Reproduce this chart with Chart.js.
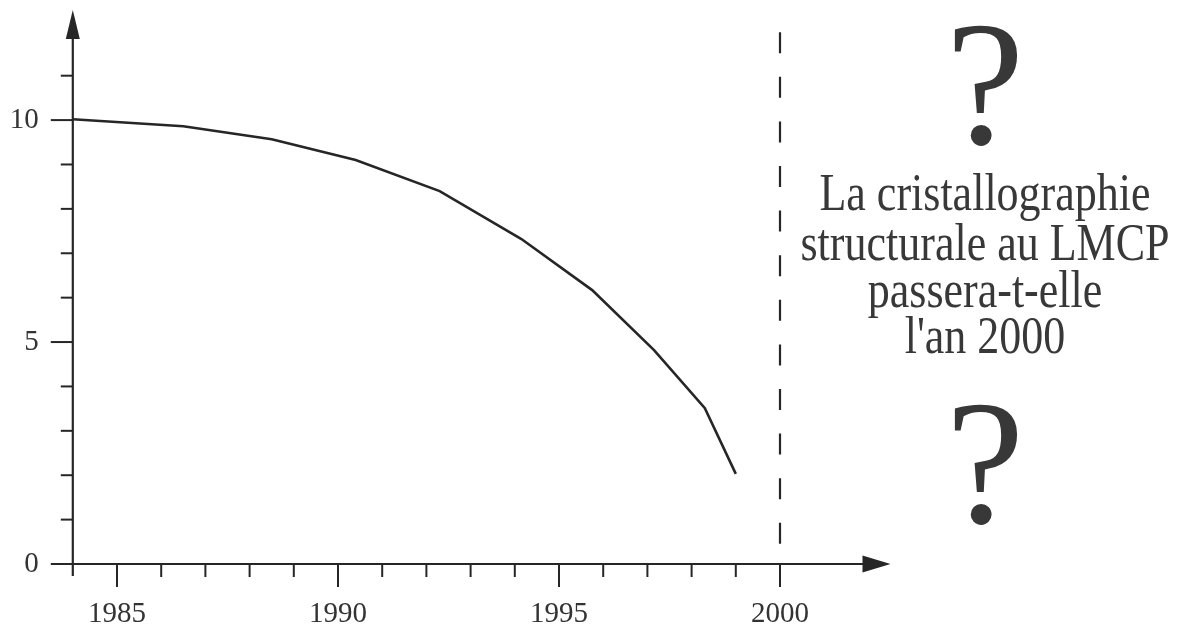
<!DOCTYPE html>
<html>
<head>
<meta charset="utf-8">
<script src="https://cdn.jsdelivr.net/npm/chart.js@4/dist/chart.umd.min.js"></script>
<style>
  html, body { margin: 0; padding: 0; background: #fff; }
  #wrap { width: 1186px; height: 627px; position: relative; }
</style>
</head>
<body>
<div id="wrap"><canvas id="c" width="1186" height="627"></canvas></div>
<script>
// ---- data ----
const years  = [1984, 1986.5, 1988.5, 1990.4, 1992.3, 1994.15, 1995.75, 1997.15, 1998.3, 1999.0];
const values = [10.02, 9.86, 9.57, 9.1, 8.4, 7.32, 6.17, 4.82, 3.51, 2.03];
const xMajorTicks = [1985, 1990, 1995, 2000];
const xMinorTicks = [1986, 1987, 1988, 1989, 1991, 1992, 1993, 1994, 1996, 1997, 1998, 1999];
const yMajorTicks = [0, 5, 10];
const yMinorTicks = [1, 2, 3, 4, 6, 7, 8, 9, 11];
const markerYear = 2000;
const questionText = ["La cristallographie", "structurale au LMCP", "passera-t-elle", "l'an 2000"];

const ink = '#262626';
const textInk = '#333333';

const decor = {
  id: 'decor',
  afterDraw(chart) {
    const ctx = chart.ctx;
    const xs = chart.scales.x, ys = chart.scales.y;
    const x0 = xs.getPixelForValue(xs.min), x1 = xs.getPixelForValue(xs.max);
    const y0 = ys.getPixelForValue(0), y1 = ys.getPixelForValue(ys.max);
    ctx.save();
    ctx.strokeStyle = ink; ctx.fillStyle = ink; ctx.lineWidth = 2.2; ctx.lineCap = 'butt';
    // x axis
    ctx.beginPath(); ctx.moveTo(x0 - 12, y0); ctx.lineTo(x1 - 26, y0); ctx.stroke();
    ctx.beginPath(); ctx.moveTo(x1, y0); ctx.lineTo(x1 - 28, y0 - 8.5); ctx.lineTo(x1 - 28, y0 + 8.5); ctx.closePath(); ctx.fill();
    // y axis
    ctx.beginPath(); ctx.moveTo(x0, y0 + 12); ctx.lineTo(x0, y1 + 26); ctx.stroke();
    ctx.beginPath(); ctx.moveTo(x0, y1); ctx.lineTo(x0 - 7, y1 + 29); ctx.lineTo(x0 + 7, y1 + 29); ctx.closePath(); ctx.fill();
    // x ticks
    ctx.lineWidth = 2;
    xMajorTicks.forEach(v => { const p = xs.getPixelForValue(v); ctx.beginPath(); ctx.moveTo(p, y0); ctx.lineTo(p, y0 + 23); ctx.stroke(); });
    xMinorTicks.forEach(v => { const p = xs.getPixelForValue(v); ctx.beginPath(); ctx.moveTo(p, y0); ctx.lineTo(p, y0 + 13); ctx.stroke(); });
    // y ticks
    yMajorTicks.forEach(v => { const p = ys.getPixelForValue(v); ctx.beginPath(); ctx.moveTo(x0, p); ctx.lineTo(x0 - 22, p); ctx.stroke(); });
    yMinorTicks.forEach(v => { const p = ys.getPixelForValue(v); ctx.beginPath(); ctx.moveTo(x0, p); ctx.lineTo(x0 - 12, p); ctx.stroke(); });
    // labels
    ctx.fillStyle = textInk;
    ctx.font = '29px "Liberation Serif", "Times New Roman", serif';
    ctx.textAlign = 'center'; ctx.textBaseline = 'middle';
    xMajorTicks.forEach(v => ctx.fillText(String(v), xs.getPixelForValue(v), y0 + 50));
    ctx.textAlign = 'right';
    yMajorTicks.forEach(v => ctx.fillText(String(v), x0 - 34, ys.getPixelForValue(v)));
    // dashed marker line
    const xm = xs.getPixelForValue(markerYear);
    ctx.strokeStyle = ink; ctx.lineWidth = 2.2; ctx.setLineDash([21, 23.6]);
    ctx.beginPath(); ctx.moveTo(xm, ys.getPixelForValue(11.98)); ctx.lineTo(xm, y0 - 16); ctx.stroke();
    ctx.setLineDash([]);
    // right-hand text
    const cx = 985;
    ctx.fillStyle = '#383838';
    ctx.textAlign = 'center'; ctx.textBaseline = 'alphabetic';
    ctx.font = '177px "Liberation Serif", "Times New Roman", serif';
    ctx.fillText('?', cx, 143);
    ctx.fillText('?', cx, 522);
    ctx.font = '44px "Liberation Serif", "Times New Roman", serif';
    const baselines = [210, 260, 307, 353];
    questionText.forEach((t, i) => {
      ctx.save();
      ctx.translate(cx, baselines[i]);
      ctx.scale(1, 1.18);
      ctx.fillText(t, 0, 0);
      ctx.restore();
    });
    ctx.restore();
  }
};

new Chart(document.getElementById('c'), {
  type: 'line',
  data: {
    datasets: [{
      data: years.map((y, i) => ({ x: y, y: values[i] })),
      borderColor: ink,
      borderWidth: 2.6,
      pointRadius: 0,
      tension: 0,
      fill: false,
      clip: false
    }]
  },
  options: {
    responsive: false,
    animation: false,
    events: [],
    layout: { padding: { left: 72.8, right: 295.5, top: 10, bottom: 63 } },
    plugins: { legend: { display: false }, tooltip: { enabled: false } },
    scales: {
      x: { type: 'linear', min: 1984, max: 2002.5, display: false },
      y: { type: 'linear', min: 0, max: 12.48, display: false }
    }
  },
  plugins: [decor]
});
</script>
</body>
</html>
